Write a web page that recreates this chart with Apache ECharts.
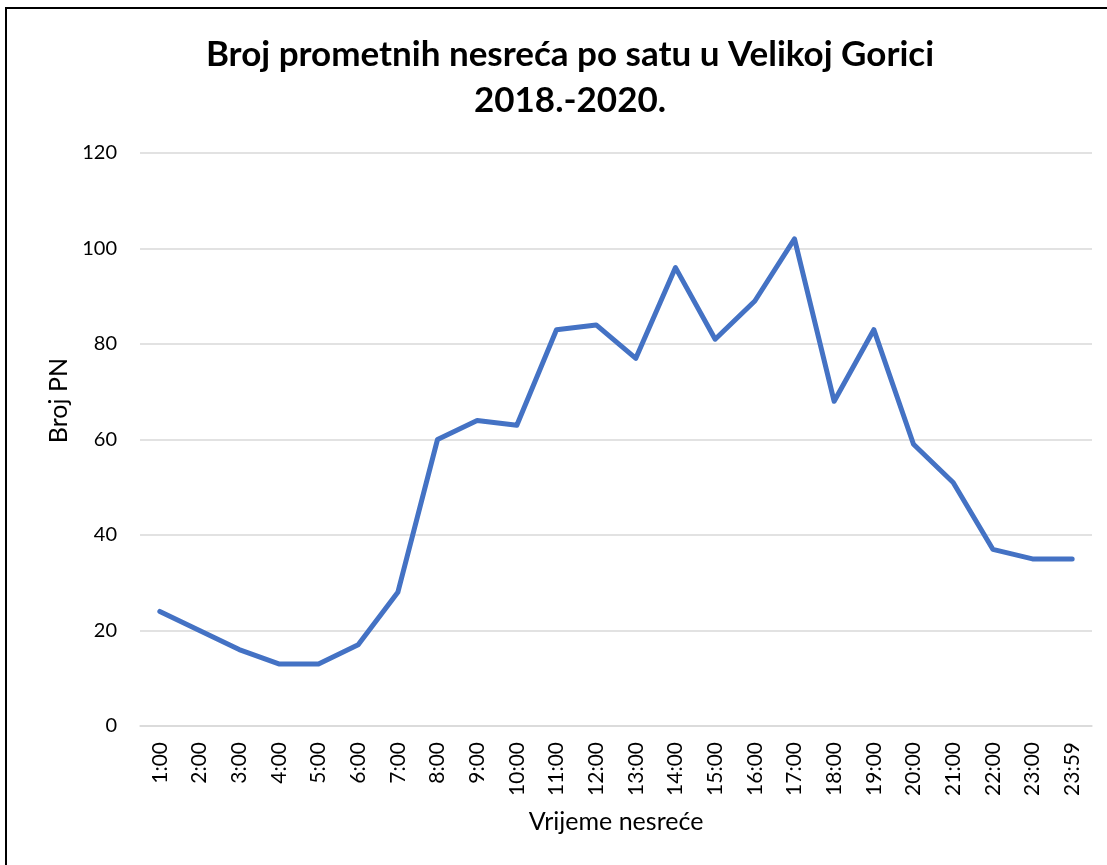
<!DOCTYPE html>
<html>
<head>
<meta charset="utf-8">
<script src="https://cdn.jsdelivr.net/npm/echarts@6/dist/echarts.min.js"></script>
<style>
html,body{margin:0;padding:0;background:#fff;}
#chart{width:1107px;height:865px;position:relative;}
#frame{position:absolute;left:5px;top:7px;width:1200px;height:1000px;border-left:2px solid #000;border-top:2px solid #000;pointer-events:none;}
</style>
</head>
<body>
<div id="chart"></div>
<div id="frame"></div>
<script>
const titleText = 'Broj prometnih nesreća po satu u Velikoj Gorici\n2018.-2020.';
const xAxisName = 'Vrijeme nesreće';
const yAxisName = 'Broj PN';
const categories = ['1:00','2:00','3:00','4:00','5:00','6:00','7:00','8:00','9:00','10:00','11:00','12:00','13:00','14:00','15:00','16:00','17:00','18:00','19:00','20:00','21:00','22:00','23:00','23:59'];
const accidents = [24,20,16,13,13,17,28,60,64,63,83,84,77,96,81,89,102,68,83,59,51,37,35,35];
const yTicks = {min:0, max:120, interval:20};

const chart = echarts.init(document.getElementById('chart'), null, {renderer:'canvas'});
const font = 'Lato';
chart.setOption({
  animation:false,
  backgroundColor:'#fff',
  title:{
    text:titleText,
    left:565,
    textAlign:'center',
    top:27,
    textStyle:{fontFamily:font,fontWeight:'bold',fontSize:35,lineHeight:46,color:'#000'}
  },
  grid:{left:140,right:15,top:153,bottom:139,containLabel:false},
  xAxis:{
    type:'category',
    data:categories,
    boundaryGap:true,
    name:xAxisName,
    nameLocation:'middle',
    nameGap:83,
    nameTextStyle:{fontFamily:font,fontSize:25,color:'#000'},
    axisLine:{show:true,lineStyle:{color:'#d9d9d9',width:1.5}},
    axisTick:{show:false},
    axisLabel:{rotate:90,fontFamily:font,fontSize:21,color:'#000',margin:16,interval:0}
  },
  yAxis:{
    type:'value',
    min:yTicks.min,max:yTicks.max,interval:yTicks.interval,
    axisLine:{show:false},
    axisTick:{show:false},
    axisLabel:{fontFamily:font,fontSize:20,color:'#000',margin:23},
    splitLine:{lineStyle:{color:'#d9d9d9',width:1.5}}
  },
  graphic:[{
    type:'text',
    left:46,
    top:358,
    rotation:Math.PI/2,
    style:{text:yAxisName,fontFamily:font,fontSize:25,fill:'#000'}
  }],
  series:[{
    type:'line',
    data:accidents,
    symbol:'none',
    lineStyle:{color:'#4472C4',width:5,cap:'round',join:'round'},
    itemStyle:{color:'#4472C4'}
  }]
});
</script>
</body>
</html>
